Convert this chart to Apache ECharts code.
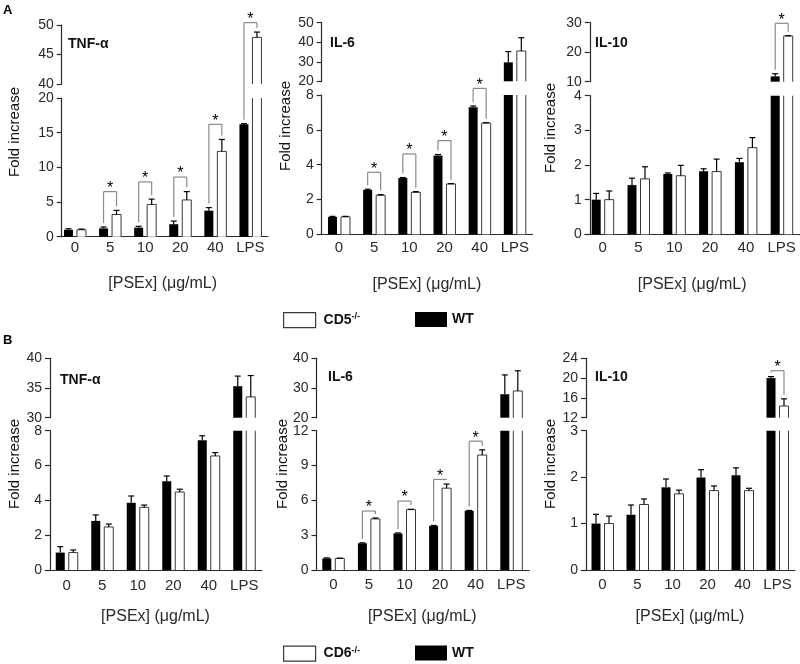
<!DOCTYPE html>
<html>
<head>
<meta charset="utf-8">
<script src="https://cdn.jsdelivr.net/npm/echarts@6/dist/echarts.min.js"></script>
<style>
html, body { margin: 0; padding: 0; background: #fff; }
#main { width: 800px; height: 664px; }
</style>
</head>
<body>
<div id="main"></div>
<script>
// categories
var doses = ['0', '5', '10', '20', '40', 'LPS'];

// A: CD5-/- vs WT
var tnfA_wt    = [1.0, 1.2, 1.3, 1.8, 3.75, 16.2];
var tnfA_wtErr = [0.15, 0.2, 0.2, 0.45, 0.45, 0.1];
var tnfA_ko    = [1.0, 3.2, 4.65, 5.3, 12.3, 47.9];
var tnfA_koErr = [0.1, 0.6, 0.77, 1.2, 1.72, 0.9];
var tnfA_stars = [[1, 6.5, 0], [2, 7.9, 0], [3, 8.6, 0], [4, 16.2, 0], [5, 50.4, 1]];

var il6A_wt    = [1.0, 2.55, 3.23, 4.52, 7.29, 29.7];
var il6A_wtErr = [0.03, 0.04, 0.03, 0.06, 0.08, 5.5];
var il6A_ko    = [1.0, 2.24, 2.41, 2.89, 6.39, 35.5];
var il6A_koErr = [0.03, 0.04, 0.04, 0.02, 0.02, 6.8];
var il6A_stars = [[1, 3.56, 0], [2, 4.61, 0], [3, 5.38, 0], [4, 8.38, 0]];

var il10A_wt    = [1.0, 1.42, 1.74, 1.82, 2.08, 11.8];
var il10A_wtErr = [0.18, 0.2, 0.03, 0.07, 0.11, 0.9];
var il10A_ko    = [1.0, 1.6, 1.69, 1.81, 2.5, 25.5];
var il10A_koErr = [0.25, 0.35, 0.3, 0.36, 0.29, 0.1];
var il10A_stars = [[5, 29.8, 1]];

// B: CD6-/- vs WT
var tnfB_wt    = [1.0, 2.82, 3.86, 5.1, 7.45, 35.3];
var tnfB_wtErr = [0.34, 0.34, 0.39, 0.3, 0.26, 1.7];
var tnfB_ko    = [1.0, 2.47, 3.6, 4.48, 6.55, 33.5];
var tnfB_koErr = [0.15, 0.17, 0.13, 0.16, 0.19, 3.6];
var tnfB_stars = [];

var il6B_wt    = [1.0, 2.3, 3.15, 3.8, 5.1, 27.9];
var il6B_wtErr = [0.04, 0.04, 0.04, 0.04, 0.03, 6.5];
var il6B_ko    = [1.0, 4.4, 5.2, 7.05, 9.9, 29.0];
var il6B_koErr = [0.02, 0.08, 0.03, 0.35, 0.45, 6.8];
var il6B_stars = [[1, 5.08, 0], [2, 5.94, 0], [3, 7.8, 0], [4, 11.1, 0]];

var il10B_wt    = [1.0, 1.19, 1.78, 1.99, 2.04, 20.0];
var il10B_wtErr = [0.2, 0.21, 0.18, 0.17, 0.16, 0.3];
var il10B_ko    = [1.0, 1.41, 1.64, 1.71, 1.71, 14.36];
var il10B_koErr = [0.16, 0.12, 0.08, 0.1, 0.05, 1.45];
var il10B_stars = [[5, 21.5, 1]];

// axis ranges [min, max, interval]: lower segment / upper segment
var tnfA_lo = [0, 20, 5],  tnfA_hi = [40, 50, 5];
var il6A_lo = [0, 8, 2],   il6A_hi = [20, 50, 10];
var il10A_lo = [0, 4, 1],  il10A_hi = [10, 30, 10];
var tnfB_lo = [0, 8, 2],   tnfB_hi = [30, 40, 5];
var il6B_lo = [0, 12, 3],  il6B_hi = [20, 40, 10];
var il10B_lo = [0, 3, 1],  il10B_hi = [12, 24, 4];

var panels = [
  { title: 'TNF-α', ko: 'CD5-/-', wt: tnfA_wt, wtErr: tnfA_wtErr, kv: tnfA_ko, kvErr: tnfA_koErr, stars: tnfA_stars, lo: tnfA_lo, hi: tnfA_hi },
  { title: 'IL-6',  ko: 'CD5-/-', wt: il6A_wt, wtErr: il6A_wtErr, kv: il6A_ko, kvErr: il6A_koErr, stars: il6A_stars, lo: il6A_lo, hi: il6A_hi },
  { title: 'IL-10', ko: 'CD5-/-', wt: il10A_wt, wtErr: il10A_wtErr, kv: il10A_ko, kvErr: il10A_koErr, stars: il10A_stars, lo: il10A_lo, hi: il10A_hi },
  { title: 'TNF-α', ko: 'CD6-/-', wt: tnfB_wt, wtErr: tnfB_wtErr, kv: tnfB_ko, kvErr: tnfB_koErr, stars: tnfB_stars, lo: tnfB_lo, hi: tnfB_hi },
  { title: 'IL-6',  ko: 'CD6-/-', wt: il6B_wt, wtErr: il6B_wtErr, kv: il6B_ko, kvErr: il6B_koErr, stars: il6B_stars, lo: il6B_lo, hi: il6B_hi },
  { title: 'IL-10', ko: 'CD6-/-', wt: il10B_wt, wtErr: il10B_wtErr, kv: il10B_ko, kvErr: il10B_koErr, stars: il10B_stars, lo: il10B_lo, hi: il10B_hi }
];

// layout of each panel (pixels)
var layout = [
  { left: 57.4, width: 210.6, hiTop: 25, hiBottom: 84, loTop: 98, loBottom: 236.7, shift: 4.3, lblGap: 5, nameGap: 40, titleX: 68, titleY: 44, ylabX: 15, ylabY: 132 },
  { left: 321.4, width: 211, hiTop: 22.7, hiBottom: 81.3, loTop: 95, loBottom: 234.3, shift: 0.3, lblGap: 7, nameGap: 43, titleX: 330, titleY: 43, ylabX: 285.5, ylabY: 126 },
  { left: 584.8, width: 214.8, hiTop: 22.7, hiBottom: 81.7, loTop: 95.7, loBottom: 234.3, shift: 5, lblGap: 7, nameGap: 43, titleX: 595, titleY: 43, ylabX: 550.5, ylabY: 128 },
  { left: 49, width: 213, hiTop: 358.3, hiBottom: 417.7, loTop: 430.7, loBottom: 570, shift: 1, lblGap: 9, nameGap: 40, titleX: 60, titleY: 380, ylabX: 14.5, ylabY: 464 },
  { left: 315.5, width: 213.6, hiTop: 358.3, hiBottom: 417.7, loTop: 430.7, loBottom: 570, shift: 1, lblGap: 8, nameGap: 40, titleX: 328, titleY: 377, ylabX: 282.5, ylabY: 464 },
  { left: 585, width: 210, hiTop: 358.3, hiBottom: 417.7, loTop: 430.7, loBottom: 570, shift: 1, lblGap: 8, nameGap: 40, titleX: 595, titleY: 377, ylabX: 550.5, ylabY: 464 }
];

var FONT = "'Liberation Sans', Arial, sans-serif";
var INK = '#2a2a2a';
var EDGE = '#3a3a3a';
var BAR_W = 9, BAR_GAP = 4, HALF = (BAR_W + BAR_GAP) / 2;

// error bars (and, for the open bars, their outline: no edge at the axis break)
function errorBars(gi, vals, errs, side, lo, hi, outline) {
  return {
    type: 'custom', xAxisIndex: gi, yAxisIndex: gi, silent: true, z: 3,
    data: vals.map(function (v, i) { return [i, v, v + errs[i]]; }),
    renderItem: function (params, api) {
      var cat = api.value(0), v = api.value(1);
      if (v < lo) return null;
      var st = { stroke: '#000', lineWidth: 1.2, fill: null };
      var kids = [];
      var x = api.coord([cat, v])[0] + side * HALF;
      if (outline) {
        var yb = api.coord([cat, lo])[1];
        var yt = api.coord([cat, Math.min(v, hi)])[1];
        var xl = x - BAR_W / 2, xr = x + BAR_W / 2;
        var es = { stroke: EDGE, lineWidth: 1, fill: null };
        if (v <= hi) {
          kids.push({ type: 'polyline', shape: { points: [[xl, yb], [xl, yt], [xr, yt], [xr, yb]] }, style: es });
        } else {
          kids.push({ type: 'line', shape: { x1: xl, y1: yb, x2: xl, y2: yt }, style: es });
          kids.push({ type: 'line', shape: { x1: xr, y1: yb, x2: xr, y2: yt }, style: es });
        }
      }
      if (v <= hi) {
        var base = api.coord([cat, v]);
        var tip = api.coord([cat, api.value(2)]);
        kids.push({ type: 'line', shape: { x1: x, y1: base[1], x2: x, y2: tip[1] }, style: st });
        kids.push({ type: 'line', shape: { x1: x - 3, y1: tip[1], x2: x + 3, y2: tip[1] }, style: st });
      }
      return { type: 'group', children: kids };
    }
  };
}

function brackets(gi, seg, p, L) {
  return {
    type: 'custom', xAxisIndex: gi, yAxisIndex: gi, silent: true, z: 4,
    data: p.stars,
    renderItem: function (params, api) {
      var cat = api.value(0), top = api.value(1), topSeg = api.value(2);
      var pt = api.coord([cat, top]);
      var cx = pt[0], yTop = pt[1];
      var gray = { stroke: '#8a8a8a', lineWidth: 1.2 };
      var kids = [];
      [[-1, p.wt[cat] + p.wtErr[cat]], [1, p.kv[cat] + p.kvErr[cat]]].forEach(function (leg) {
        var x = cx + leg[0] * HALF;
        var baseSeg = leg[1] > p.lo[1] ? 1 : 0;
        var y1, y2;
        if (baseSeg === topSeg) {
          if (seg !== topSeg) return;
          y1 = api.coord([cat, leg[1]])[1] - 4; y2 = yTop;
        } else if (seg === 0) {
          y1 = api.coord([cat, leg[1]])[1] - 4; y2 = L.loTop;
        } else {
          y1 = L.loTop; y2 = yTop;
        }
        kids.push({ type: 'line', shape: { x1: x, y1: y1, x2: x, y2: y2 }, style: gray });
      });
      if (seg === topSeg) {
        kids.push({ type: 'line', shape: { x1: cx - HALF, y1: yTop, x2: cx + HALF, y2: yTop }, style: gray });
        kids.push({ type: 'text', x: cx, y: yTop - 3, style: { text: '*', fill: '#000', fontSize: 16, fontFamily: FONT, align: 'center', verticalAlign: 'middle' } });
      }
      return { type: 'group', children: kids };
    }
  };
}

var option = {
  animation: false,
  textStyle: { fontFamily: FONT },
  grid: [], xAxis: [], yAxis: [], series: [], graphic: [], legend: []
};

panels.forEach(function (p, k) {
  var L = layout[k];
  var segs = [
    { top: L.loTop, bottom: L.loBottom, range: p.lo },
    { top: L.hiTop, bottom: L.hiBottom, range: p.hi }
  ];
  segs.forEach(function (s, j) {
    var gi = option.grid.length;
    var lo = s.range[0], hi = s.range[1];
    option.grid.push({ left: L.left, top: s.top, width: L.width, height: s.bottom - s.top, containLabel: false, outerBoundsMode: 'none' });
    option.xAxis.push({
      type: 'category', gridIndex: gi, data: doses, show: j === 0,
      axisLine: { show: true, lineStyle: { color: INK, width: 1.2 } },
      axisTick: { show: false },
      axisLabel: { color: INK, fontSize: 15, margin: L.lblGap - 1, interval: 0, hideOverlap: false },
      name: j === 0 ? '[PSEx] (μg/mL)' : '', nameLocation: 'middle', nameGap: L.nameGap - 1,
      nameTextStyle: { color: INK, fontSize: 16 }
    });
    option.yAxis.push({
      type: 'value', gridIndex: gi, min: lo, max: hi, interval: s.range[2], offset: -L.shift,
      splitLine: { show: false },
      axisLine: { show: true, lineStyle: { color: INK, width: 1.2 } },
      axisTick: { show: true, length: 5, lineStyle: { color: INK, width: 1.2 } },
      axisLabel: { color: INK, fontSize: 14, margin: 8 }
    });
    var pick = function (arr) {
      return arr.map(function (v) { return (j === 0 || v >= lo) ? v : '-'; });
    };
    option.series.push({
      name: 'WT', type: 'bar', xAxisIndex: gi, yAxisIndex: gi, data: pick(p.wt),
      barWidth: BAR_W, barGap: (BAR_GAP / BAR_W * 100) + '%', clip: true, silent: true,
      itemStyle: { color: '#000' }
    });
    option.series.push({
      name: p.ko, type: 'bar', xAxisIndex: gi, yAxisIndex: gi, data: pick(p.kv),
      barWidth: BAR_W, clip: true, silent: true,
      itemStyle: { color: '#fff', borderWidth: 0 }
    });
    option.series.push(errorBars(gi, p.wt, p.wtErr, -1, lo, hi, false));
    option.series.push(errorBars(gi, p.kv, p.kvErr, 1, lo, hi, true));
    if (p.stars.length) option.series.push(brackets(gi, j, p, L));
  });
  option.graphic.push({ type: 'text', x: L.titleX, y: L.titleY, style: { text: p.title, fill: '#111', fontSize: 14, fontWeight: 'bold', fontFamily: FONT, align: 'left', verticalAlign: 'middle' } });
  option.graphic.push({ type: 'text', x: L.ylabX, y: L.ylabY, rotation: Math.PI / 2, style: { text: 'Fold increase', fill: '#111', fontSize: 15, fontFamily: FONT, align: 'center', verticalAlign: 'middle' } });
});

option.graphic.push({ type: 'text', x: 3, y: 10, style: { text: 'A', fill: '#000', fontSize: 13, fontWeight: 'bold', fontFamily: FONT, align: 'left', verticalAlign: 'middle' } });
option.graphic.push({ type: 'text', x: 3, y: 340, style: { text: 'B', fill: '#000', fontSize: 13, fontWeight: 'bold', fontFamily: FONT, align: 'left', verticalAlign: 'middle' } });

function legendItem(name, left, top) {
  var open = name !== 'WT';
  return {
    data: [name], left: left, top: top, padding: 0, itemWidth: 32, itemHeight: 15,
    icon: 'rect', selectedMode: false,
    itemStyle: open ? { color: '#fff', borderColor: EDGE, borderWidth: 1.2 } : { color: '#000', borderWidth: 0 },
    formatter: function (n) {
      return n === 'WT' ? '{b|WT}' : '{c|' + n.slice(0, 3) + '}{s|-/-}';
    },
    textStyle: {
      color: '#111',
      rich: {
        b: { fontSize: 14, fontWeight: 'bold', fontFamily: FONT, lineHeight: 16, color: '#111' },
        c: { fontSize: 14, fontWeight: 'bold', fontFamily: FONT, lineHeight: 16, color: '#111', padding: [0, 0, 0, 3] },
        s: { fontSize: 9, fontWeight: 'bold', fontFamily: FONT, lineHeight: 10, verticalAlign: 'top', color: '#111' }
      }
    }
  };
}
option.legend.push(legendItem('CD5-/-', 283, 312));
option.legend.push(legendItem('WT', 415, 312));
option.legend.push(legendItem('CD6-/-', 283, 645.5));
option.legend.push(legendItem('WT', 415, 645.5));

var chart = echarts.init(document.getElementById('main'));
chart.setOption(option);
</script>
</body>
</html>
